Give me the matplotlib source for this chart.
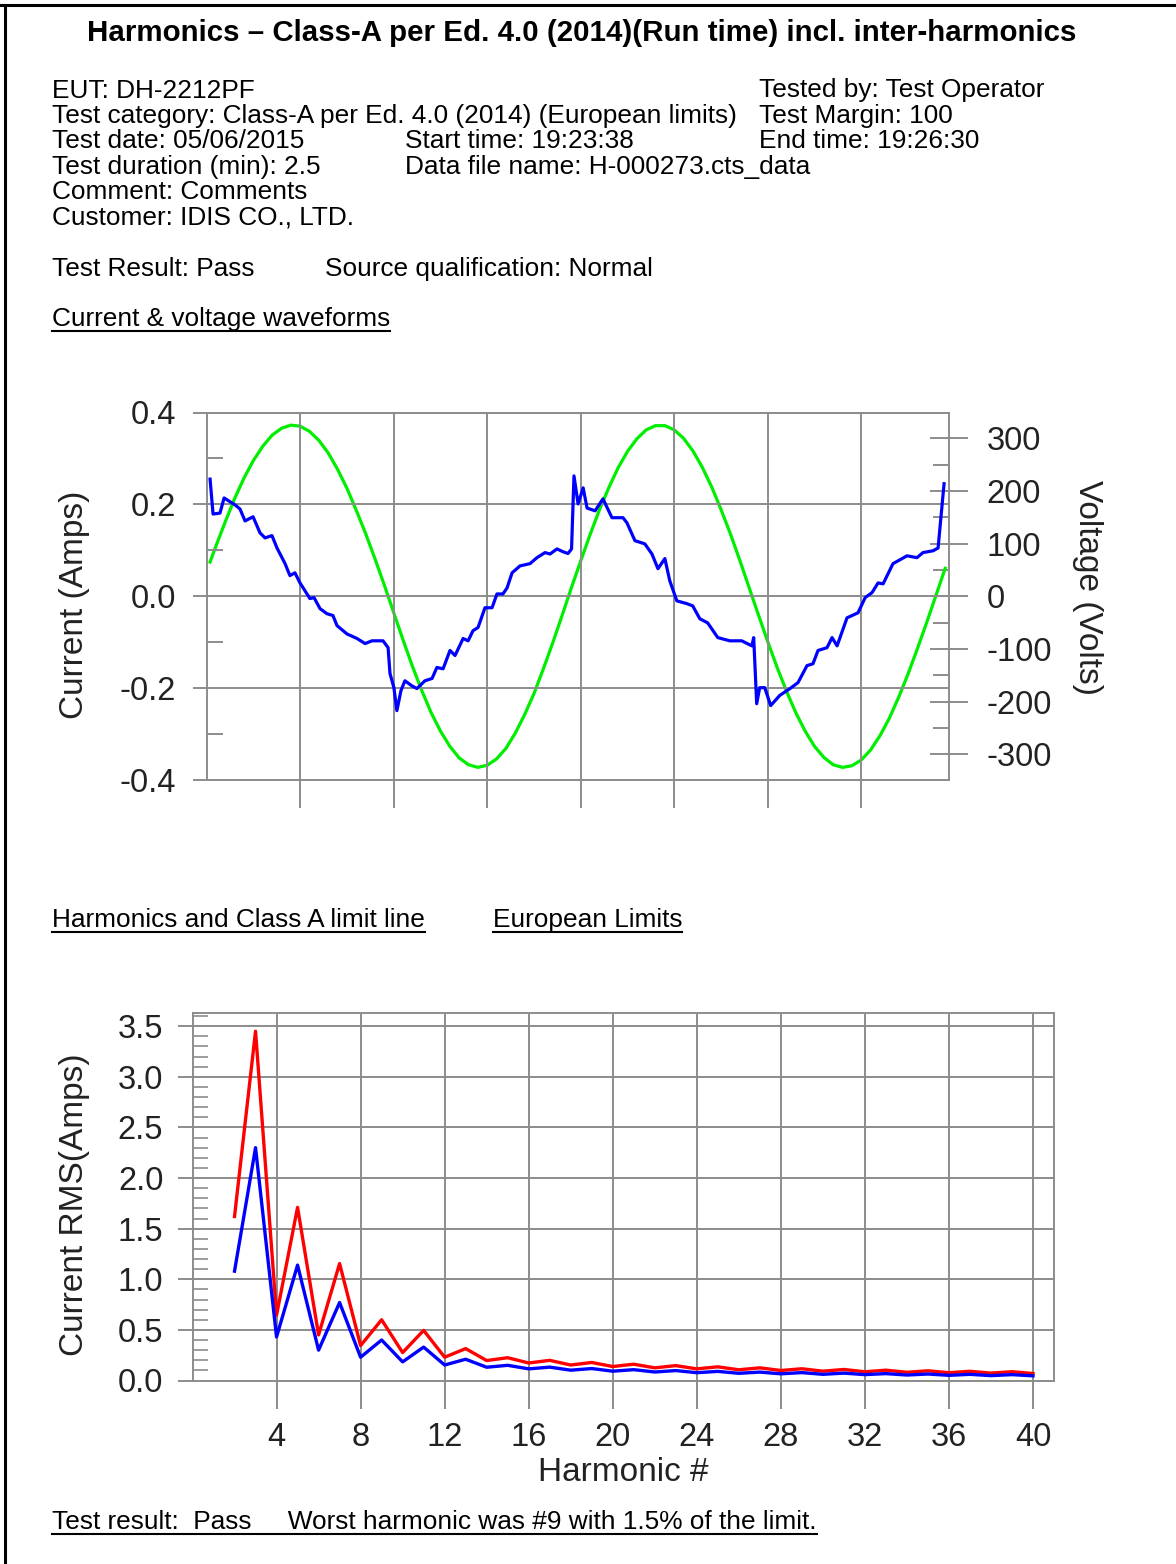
import matplotlib
matplotlib.use("Agg")
import matplotlib.pyplot as plt
from matplotlib.lines import Line2D
from matplotlib.ticker import MultipleLocator, FixedLocator, FormatStrFormatter

plt.rcParams['font.family'] = ['Liberation Sans', 'DejaVu Sans']
plt.rcParams['axes.unicode_minus'] = False

# %% data
# current waveform, time in ms from left edge of the plot, current in A
wave_t = [0.18, 0.34, 0.71, 0.93, 1.51, 1.78, 2.05, 2.48, 2.85, 3.12, 3.49, 3.76,
          4.19, 4.45, 4.72, 4.99, 5.52, 5.74, 6.06, 6.43, 6.75, 6.97, 7.50, 8.04,
          8.47, 8.84, 9.43, 9.70, 9.80, 10.01, 10.17, 10.39, 10.60, 10.97, 11.24,
          11.67, 12.05, 12.31, 12.64, 13.01, 13.28, 13.71, 13.98, 14.24, 14.51,
          14.88, 15.26, 15.52, 15.84, 16.06, 16.33, 16.75, 17.29, 17.66, 18.09,
          18.36, 18.73, 19.05, 19.32, 19.51, 19.64, 19.86, 20.13, 20.34, 20.77,
          21.19, 21.67, 22.26, 22.47, 22.90, 23.43, 23.81, 24.13, 24.50, 24.76,
          25.14, 25.67, 25.99, 26.37, 26.79, 27.33, 27.97, 28.61, 29.15, 29.25,
          29.41, 29.57, 29.84, 30.16, 30.64, 31.19, 31.62, 32.10, 32.42, 32.69,
          33.17, 33.44, 33.71, 34.24, 34.83, 35.21, 35.58, 35.90, 36.17, 36.70,
          37.45, 37.98, 38.30, 38.84, 39.11, 39.43]
current_a = [0.255, 0.179, 0.181, 0.214, 0.199, 0.190, 0.164, 0.173, 0.138, 0.127,
             0.132, 0.105, 0.071, 0.045, 0.051, 0.029, -0.005, -0.003, -0.027,
             -0.038, -0.042, -0.064, -0.082, -0.092, -0.103, -0.097, -0.097, -0.112,
             -0.168, -0.199, -0.249, -0.205, -0.184, -0.195, -0.201, -0.184, -0.179,
             -0.155, -0.158, -0.118, -0.129, -0.092, -0.097, -0.075, -0.068, -0.025,
             -0.025, 0.005, 0.005, 0.018, 0.051, 0.066, 0.071, 0.084, 0.095, 0.092,
             0.103, 0.097, 0.093, 0.103, 0.262, 0.201, 0.236, 0.192, 0.186, 0.212,
             0.171, 0.171, 0.160, 0.121, 0.114, 0.092, 0.060, 0.082, 0.034, -0.010,
             -0.016, -0.021, -0.049, -0.058, -0.090, -0.097, -0.097, -0.108, -0.090,
             -0.234, -0.199, -0.199, -0.238, -0.216, -0.201, -0.188, -0.151, -0.147,
             -0.118, -0.112, -0.090, -0.108, -0.047, -0.036, -0.003, 0.008, 0.029,
             0.027, 0.071, 0.088, 0.084, 0.095, 0.099, 0.105, 0.245]

# voltage waveform, V, read every 0.5 ms
volt_t = [0.18, 0.5, 1, 1.5, 2, 2.5, 3, 3.5, 4, 4.5, 5, 5.5, 6, 6.5, 7, 7.5, 8, 8.5,
          9, 9.5, 10, 10.5, 11, 11.5, 12, 12.5, 13, 13.5, 14, 14.5, 15, 15.5, 16,
          16.5, 17, 17.5, 18, 18.5, 19, 19.5, 20, 20.5, 21, 21.5, 22, 22.5, 23,
          23.5, 24, 24.5, 25, 25.5, 26, 26.5, 27, 27.5, 28, 28.5, 29, 29.5, 30,
          30.5, 31, 31.5, 32, 32.5, 33, 33.5, 34, 34.5, 35, 35.5, 36, 36.5, 37,
          37.5, 38, 38.5, 39, 39.49]
voltage_v = [65, 96, 142, 186, 225, 258, 285, 306, 319, 325, 323, 313, 296, 272, 241,
             205, 163, 119, 71, 21, -31, -83, -133, -179, -221, -256, -285, -307,
             -320, -325, -321, -309, -289, -260, -225, -185, -138, -89, -37, 16, 67,
             117, 164, 206, 244, 275, 299, 316, 324, 324, 316, 300, 276, 245, 208,
             165, 119, 69, 17, -35, -86, -135, -180, -221, -256, -285, -306, -320,
             -325, -322, -311, -292, -265, -232, -192, -148, -100, -50, 2, 53]

# harmonics 2..40
harmonic_n = list(range(2, 41))
limit_a = [1.08, 2.30, 0.43, 1.14, 0.30, 0.77, 0.23, 0.40, 0.184, 0.33, 0.153, 0.21,
           0.131, 0.15, 0.115, 0.132, 0.102, 0.118, 0.092, 0.107, 0.084, 0.098, 0.077,
           0.090, 0.071, 0.083, 0.066, 0.078, 0.061, 0.073, 0.058, 0.068, 0.054,
           0.064, 0.051, 0.061, 0.048, 0.058, 0.046]
limit150_a = [1.62, 3.45, 0.645, 1.71, 0.45, 1.155, 0.345, 0.60, 0.276, 0.495, 0.23,
              0.315, 0.197, 0.225, 0.173, 0.199, 0.153, 0.178, 0.138, 0.161, 0.125,
              0.147, 0.115, 0.135, 0.106, 0.125, 0.099, 0.116, 0.092, 0.109, 0.086,
              0.102, 0.081, 0.096, 0.077, 0.091, 0.073, 0.087, 0.069]

harm_ticks = [4, 8, 12, 16, 20, 24, 28, 32, 36, 40]

# %% page
W, H = 1176, 1564
fig = plt.figure(figsize=(W / 100, H / 100), dpi=100)
fig.patch.set_facecolor('white')


def fx(px):
    return px / W


def fy(py):
    return 1 - py / H


GRID = '#8c8c8c'
INK = '#222222'
INFO = 18.9
TICK = 23.5
LAB = 24

# border of the scanned page
fig.add_artist(Line2D([0, 1], [fy(5), fy(5)], color='black', lw=2.2))
fig.add_artist(Line2D([fx(5), fx(5)], [fy(5), 0], color='black', lw=2.2))

fig.text(fx(581.5), fy(41), "Harmonics \u2013 Class-A per Ed. 4.0 (2014)(Run time) incl. inter-harmonics",
         ha='center', va='baseline', fontsize=21.25, fontweight='bold')

col1 = ["EUT: DH-2212PF",
        "Test category: Class-A per Ed. 4.0 (2014) (European limits)",
        "Test date: 05/06/2015",
        "Test duration (min): 2.5",
        "Comment: Comments",
        "Customer: IDIS CO., LTD."]
col2 = {2: "Start time: 19:23:38", 3: "Data file name: H-000273.cts_data"}
col3 = {0: "Tested by: Test Operator", 1: "Test Margin: 100", 2: "End time: 19:26:30"}
for i, s in enumerate(col1):
    fig.text(fx(52), fy(97.5 + 25.4 * i), s, va='baseline', fontsize=INFO)
for i, s in col2.items():
    fig.text(fx(405), fy(97.5 + 25.4 * i), s, va='baseline', fontsize=INFO)
for i, s in col3.items():
    fig.text(fx(759), fy(97.5 + 25.4 * i), s, va='baseline', fontsize=INFO)

fig.text(fx(52), fy(276), "Test Result: Pass", va='baseline', fontsize=INFO)
fig.text(fx(325), fy(276), "Source qualification: Normal", va='baseline', fontsize=INFO)

underlined = []
underlined.append((fig.text(fx(52), fy(326), "Current & voltage waveforms",
                            va='baseline', fontsize=INFO), 331))
underlined.append((fig.text(fx(52), fy(927), "Harmonics and Class A limit line",
                            va='baseline', fontsize=INFO), 932))
underlined.append((fig.text(fx(493), fy(927), "European Limits",
                            va='baseline', fontsize=INFO), 932))
underlined.append((fig.text(fx(52), fy(1529),
                            "Test result:  Pass     Worst harmonic was #9 with 1.5% of the limit.",
                            va='baseline', fontsize=INFO), 1534))

# %% waveform plot
ax = fig.add_axes([fx(206.7), fy(780), (949.3 - 206.7) / W, (780 - 412.5) / H])
ax.plot(wave_t, current_a, color='#0000ff', lw=2.3, zorder=3)
ax.set_xlim(0, 39.71)
ax.set_ylim(-0.4, 0.4)
ax.xaxis.set_major_locator(FixedLocator([5, 10, 15, 20, 25, 30, 35]))
ax.yaxis.set_major_locator(FixedLocator([-0.4, -0.2, 0.0, 0.2, 0.4]))
ax.yaxis.set_minor_locator(FixedLocator([-0.3, -0.1, 0.1, 0.3]))
ax.yaxis.set_major_formatter(FormatStrFormatter('%.1f'))
ax.set_xticklabels([])
ax.grid(True, which='major', color=GRID, lw=1.4)
ax.set_axisbelow(True)
for sp in ax.spines.values():
    sp.set_color(GRID)
    sp.set_linewidth(1.4)
ax.tick_params(axis='x', which='major', direction='out', length=20, width=1.4, color=GRID)
ax.tick_params(axis='y', which='major', direction='out', length=10, width=1.4, color=GRID,
               labelsize=TICK, pad=12, labelcolor=INK)
ax.tick_params(axis='y', which='minor', direction='in', length=11.5, width=1.4, color=GRID)

axv = ax.twinx()
axv.plot(volt_t, voltage_v, color='#00ee00', lw=2.3, zorder=2)
axv.set_ylim(-349, 349)
axv.yaxis.set_major_locator(FixedLocator([-300, -200, -100, 0, 100, 200, 300]))
axv.yaxis.set_minor_locator(FixedLocator([-250, -150, -50, 50, 150, 250]))
for sp in axv.spines.values():
    sp.set_visible(False)
axv.tick_params(axis='y', which='major', direction='inout', length=28, width=1.4, color=GRID,
                labelsize=TICK, pad=13, labelcolor=INK)
axv.tick_params(axis='y', which='minor', direction='in', length=11.5, width=1.4, color=GRID)
ax.set_zorder(axv.get_zorder() + 1)
ax.patch.set_visible(False)

fig.text(fx(75), fy(605), "Current (Amps)", rotation=90, ha='center', va='center',
         fontsize=LAB, color=INK)
fig.text(fx(1087), fy(587), "Voltage (Volts)", rotation=270, ha='center', va='center',
         fontsize=LAB, color=INK)

# %% harmonics plot
ax2 = fig.add_axes([fx(192.5), fy(1380.5), (1054 - 192.5) / W, (1380.5 - 1013) / H])
ax2.plot(harmonic_n, limit150_a, color='#ff0000', lw=2.4, zorder=3)
ax2.plot(harmonic_n, limit_a, color='#0000ff', lw=2.4, zorder=3)
ax2.set_xlim(0, 41)
ax2.set_ylim(0, 3.63)
ax2.xaxis.set_major_locator(FixedLocator(harm_ticks))
ax2.yaxis.set_major_locator(MultipleLocator(0.5))
ax2.yaxis.set_minor_locator(MultipleLocator(0.1))
ax2.yaxis.set_major_formatter(FormatStrFormatter('%.1f'))
ax2.grid(True, which='major', color=GRID, lw=1.4)
ax2.set_axisbelow(True)
for sp in ax2.spines.values():
    sp.set_color(GRID)
    sp.set_linewidth(1.4)
ax2.tick_params(axis='x', which='major', direction='out', length=20, width=1.4, color=GRID,
                labelsize=TICK, pad=10, labelcolor=INK)
ax2.tick_params(axis='y', which='major', direction='out', length=11, width=1.4, color=GRID,
                labelsize=TICK, pad=10, labelcolor=INK)
ax2.tick_params(axis='y', which='minor', direction='in', length=11, width=1.2, color=GRID)
ax2.set_xlabel("Harmonic #", fontsize=LAB, labelpad=3, color=INK)

fig.text(fx(75), fy(1205), "Current RMS(Amps)", rotation=90, ha='center', va='center',
         fontsize=LAB, color=INK)

# %% underline the section headings
fig.canvas.draw()
renderer = fig.canvas.get_renderer()
for txt, yline in underlined:
    bb = txt.get_window_extent(renderer).transformed(fig.transFigure.inverted())
    fig.add_artist(Line2D([bb.x0, bb.x1], [fy(yline), fy(yline)], color='black', lw=1.5))

fig.savefig("out.png", dpi=100)
